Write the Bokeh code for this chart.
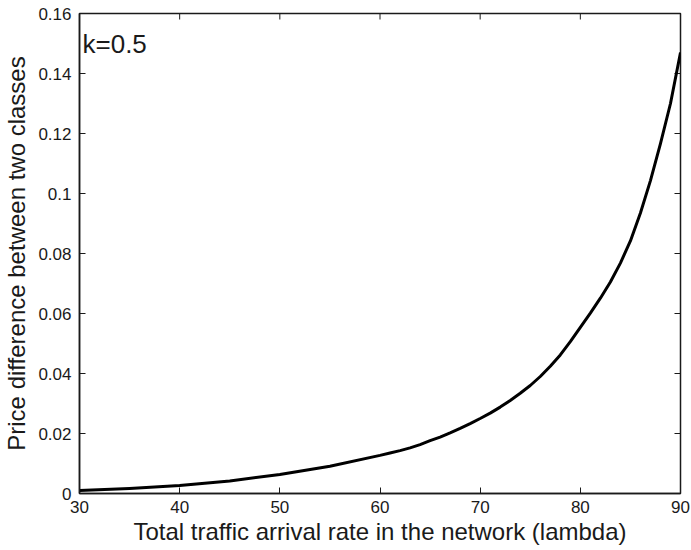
import math
from bokeh.plotting import figure
from bokeh.models import LinearAxis, Range1d, FixedTicker, Label
from bokeh.embed import file_html
from bokeh.resources import INLINE

# Data
lam = [30, 35, 40, 45, 50, 55, 60, 61, 62, 63, 64, 65, 66, 67, 68, 69, 70, 71, 72, 73, 74, 75,
       76, 77, 78, 79, 80, 81, 82, 83, 84, 85, 86, 87, 88, 89, 90]
price_diff = [0.0010, 0.0017, 0.0027, 0.0042, 0.0063, 0.0091, 0.0127, 0.0135, 0.0143, 0.0152,
              0.0163, 0.0176, 0.0188, 0.0202, 0.0217, 0.0233, 0.0250, 0.0268, 0.0288, 0.0310,
              0.0334, 0.0360, 0.0390, 0.0424, 0.0462, 0.0506, 0.0554, 0.0601, 0.0651, 0.0705,
              0.0768, 0.0842, 0.0935, 0.1043, 0.1166, 0.1300, 0.1470]
x_ticks = [30, 40, 50, 60, 70, 80, 90]
y_ticks = [0, 0.02, 0.04, 0.06, 0.08, 0.1, 0.12, 0.14, 0.16]
y_tick_labels = {0: "0", 0.02: "0.02", 0.04: "0.04", 0.06: "0.06", 0.08: "0.08",
                 0.1: "0.1", 0.12: "0.12", 0.14: "0.14", 0.16: "0.16"}
x_min, x_max = 30, 90
y_min, y_max = 0, 0.16

FONT = "Liberation Sans"
TXT = "#1a1a1a"

p = figure(width=691, height=550, output_backend="svg", toolbar_location=None,
           x_range=Range1d(x_min, x_max), y_range=Range1d(y_min, y_max),
           min_border_left=79, min_border_right=11, min_border_top=13, min_border_bottom=57,
           x_axis_location=None, y_axis_location=None)
p.grid.visible = False
p.outline_line_color = TXT
p.outline_line_width = 1.5
p.background_fill_color = "white"
p.border_fill_color = "white"


def style(ax, ticks):
    ax.ticker = FixedTicker(ticks=ticks)
    ax.major_tick_in = 6
    ax.major_tick_out = 0
    ax.minor_tick_line_color = None
    ax.axis_line_color = TXT
    ax.axis_line_width = 1.5
    ax.major_tick_line_color = TXT
    ax.major_tick_line_width = 1
    ax.major_label_text_font = FONT
    ax.major_label_text_font_size = "17px"
    ax.major_label_text_color = TXT
    ax.axis_label_text_font = FONT
    ax.axis_label_text_font_size = "24px"
    ax.axis_label_text_font_style = "normal"
    ax.axis_label_text_color = TXT


xb = LinearAxis(axis_label="Total traffic arrival rate in the network (lambda)")
style(xb, x_ticks)
xb.major_label_standoff = 7
xb.axis_label_standoff = 2
p.add_layout(xb, "below")

yl = LinearAxis(axis_label="Price difference between two classes")
style(yl, y_ticks)
yl.major_label_overrides = y_tick_labels
yl.major_label_standoff = 8
yl.axis_label_standoff = 5
p.add_layout(yl, "left")

# inward ticks on the top and right edges of the box (half of each dash is clipped by the frame)
p.scatter(x_ticks, [y_max] * len(x_ticks), marker="dash", angle=math.pi / 2, size=12,
          line_color=TXT, line_width=1)
p.scatter([x_max] * len(y_ticks), y_ticks, marker="dash", size=12,
          line_color=TXT, line_width=1)

p.line(lam, price_diff, line_color="black", line_width=3, line_join="round")

p.add_layout(Label(x=3, y=450, x_units="screen", y_units="screen", text="k=0.5",
                   text_font=FONT, text_font_size="26px", text_color=TXT,
                   text_baseline="alphabetic"))

open("out.html", "w").write(file_html(p, INLINE))
